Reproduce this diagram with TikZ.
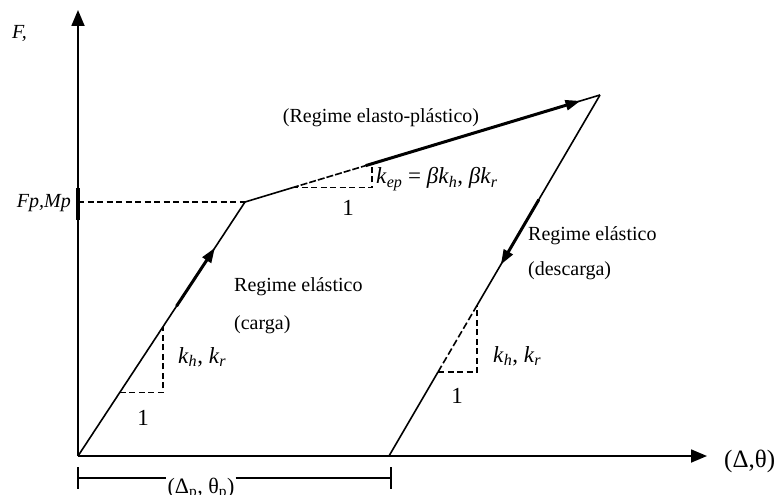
\documentclass[tikz,border=0pt]{standalone}
\usepackage{fontspec}
\setmainfont{Liberation Serif}
\newfontfamily\sansf{Liberation Sans}
\usetikzlibrary{arrows.meta,calc}
\newcommand{\ksb}[2]{\textit{#1}\textsubscript{\textit{#2}}}
\tikzset{
  axis/.style={line width=1.8pt,-{Triangle[length=16pt,width=13pt]}},
  curve/.style={line width=1.6pt},
  thickarr/.style={line width=3pt,-{Triangle[length=15pt,width=10pt]}},
  dsh/.style={line width=1.3pt,dash pattern=on 6pt off 3.5pt},
  lbl/.style={font=\fontsize{20}{22}\selectfont,inner sep=0pt},
  big/.style={font=\fontsize{23}{25}\selectfont,inner sep=0pt},
}
\begin{document}
\begin{tikzpicture}[x=1pt,y=-1pt]
\useasboundingbox (0,0) rectangle (784,495);
\clip (0,0) rectangle (784,495);
\fill[white] (0,0) rectangle (784,495);
% key points
\coordinate (O) at (78,456);
\coordinate (A) at (245,202);
\coordinate (B) at (600,95);
\coordinate (C) at (389,456);
\coordinate (Ytop) at (78,10);
\coordinate (Xend) at (707,456);
\coordinate (Fp) at (78,202);
% axes
\draw[axis] (O) -- (Ytop);
\draw[axis] (O) -- (Xend);
\draw[line width=3.5pt] (78,188) -- (78,220);
% dashed yield level
\draw[dsh] (Fp) -- (A);
% loading branch
\coordinate (L1) at (119.75,392.5);
\coordinate (L2) at (163,392.5);
\coordinate (L3) at (163,326.7);
\draw[curve] (O) -- (A);
\draw[thickarr] ($(O)!0.59!(A)$) -- ($(O)!0.82!(A)$);
\draw[dsh] (L1) -- (L2) -- (L3);
% plastic branch
\coordinate (P1) at (292,187.8);
\coordinate (P2) at (372,187.8);
\coordinate (P3) at (372,163.7);
\draw[curve] (A) -- (P1);
\draw[curve] (P3) -- (B);
\draw[curve,dash pattern=on 7pt off 2pt] (P1) -- (P3);
\draw[thickarr] ($(A)!0.34!(B)$) -- ($(A)!0.945!(B)$);
\draw[dsh] (P1) -- (P2) -- (P3);
% unloading branch
\coordinate (U1) at (438,372);
\coordinate (U2) at (477,372);
\coordinate (U3) at (477,305.4);
\draw[curve] (B) -- (U3);
\draw[curve] (U1) -- (C);
\draw[curve,dash pattern=on 7pt off 3pt] (U3) -- (U1);
\draw[thickarr] ($(B)!0.29!(C)$) -- ($(B)!0.47!(C)$);
\draw[dsh] (U1) -- (U2) -- (U3);
% dimension line
\coordinate (D1) at (78,478);
\coordinate (D2) at (391,478);
\node[font=\fontsize{22}{24}\selectfont,anchor=base,inner sep=1pt] (dp) at (201,493) {(Δ\textsubscript{p}, θ\textsubscript{p})};
\draw[line width=1.5pt] (D1) -- (dp.west |- D1);
\draw[line width=1.5pt] (dp.east |- D1) -- (D2);
\draw[line width=1.5pt] (78,467) -- (78,489);
\draw[line width=1.5pt] (391,467) -- (391,489);
% labels
\node[lbl,anchor=west] (F) at (12,33) {\textit{F,}};
\node[lbl,anchor=east] (FpM) at (71,203) {\textit{Fp,Mp}};
\node[lbl] (pl) at (381,118) {(Regime elasto-plástico)};
\node[big,anchor=west] (kep) at (376,179) {\ksb{k}{ep} = \textit{β}\ksb{k}{h}, \textit{β}\ksb{k}{r}};
\node[big] (one1) at (348,208) {1};
\node[lbl,anchor=west] (re1) at (234,287) {Regime elástico};
\node[lbl,anchor=west] (ca) at (234,325) {(carga)};
\node[big,anchor=west] (kh1) at (178,357) {\ksb{k}{h}, \ksb{k}{r}};
\node[big] (one2) at (143,418) {1};
\node[lbl,anchor=west] (re2) at (528,236) {Regime elástico};
\node[lbl,anchor=west] (de) at (528,271) {(descarga)};
\node[big,anchor=west] (kh2) at (493,356) {\ksb{k}{h}, \ksb{k}{r}};
\node[big] (one3) at (457,396) {1};
\node[font=\fontsize{25}{27}\selectfont,anchor=west,inner sep=0pt] (xl) at (724,461) {(Δ,θ)};
\end{tikzpicture}
\end{document}
